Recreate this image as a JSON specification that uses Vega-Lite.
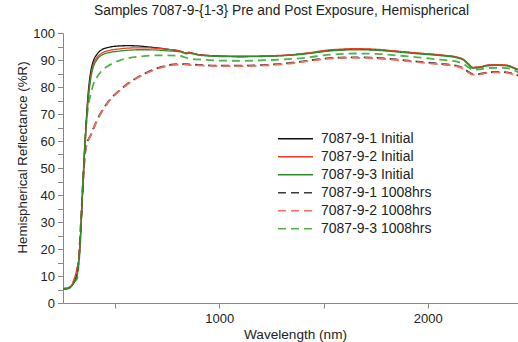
{
  "$schema": "https://vega.github.io/schema/vega-lite/v6.json",
  "width": 455,
  "height": 270,
  "autosize": "none",
  "padding": {"left": 63, "top": 33, "right": 0, "bottom": 39},
  "background": "white",
  "config": {
    "view": {"stroke": null},
    "font": "Liberation Sans"
  },
  "title": {
    "text": "Samples 7087-9-{1-3} Pre and Post Exposure, Hemispherical",
    "fontSize": 13.8,
    "fontWeight": "normal",
    "font": "Liberation Sans",
    "color": "#222",
    "anchor": "middle",
    "frame": "group",
    "baseline": "alphabetic",
    "offset": -2,
    "dx": -9
  },
  "data": {
    "values": [
      {"wl": 250, "k1i": 5.2, "k2i": 5.2, "k3i": 5.2, "k1d": 5.3, "k2d": 5.3, "k3d": 5.3},
      {"wl": 270, "k1i": 5.3, "k2i": 5.4, "k3i": 5.3, "k1d": 5.4, "k2d": 5.5, "k3d": 5.4},
      {"wl": 290, "k1i": 6.2, "k2i": 6.5, "k3i": 6.2, "k1d": 6.3, "k2d": 6.6, "k3d": 6.2},
      {"wl": 305, "k1i": 8.0, "k2i": 9.0, "k3i": 8.0, "k1d": 8.2, "k2d": 9.0, "k3d": 8.0},
      {"wl": 318, "k1i": 11.0, "k2i": 13.0, "k3i": 10.0, "k1d": 11.5, "k2d": 12.5, "k3d": 9.0},
      {"wl": 325, "k1i": 15.0, "k2i": 15.5, "k3i": 15.0, "k1d": 16.0, "k2d": 16.0, "k3d": 14.0},
      {"wl": 332, "k1i": 22.0, "k2i": 22.0, "k3i": 22.0, "k1d": 24.0, "k2d": 24.0, "k3d": 21.0},
      {"wl": 338, "k1i": 31.0, "k2i": 31.5, "k3i": 32.0, "k1d": 33.0, "k2d": 33.0, "k3d": 31.0},
      {"wl": 344, "k1i": 41.0, "k2i": 41.0, "k3i": 42.0, "k1d": 42.0, "k2d": 42.0, "k3d": 41.0},
      {"wl": 350, "k1i": 51.0, "k2i": 50.5, "k3i": 52.0, "k1d": 50.0, "k2d": 49.5, "k3d": 51.0},
      {"wl": 356, "k1i": 60.0, "k2i": 59.0, "k3i": 60.0, "k1d": 55.5, "k2d": 55.0, "k3d": 59.0},
      {"wl": 362, "k1i": 68.0, "k2i": 66.0, "k3i": 67.0, "k1d": 58.5, "k2d": 58.0, "k3d": 66.5},
      {"wl": 368, "k1i": 75.0, "k2i": 73.0, "k3i": 73.0, "k1d": 60.0, "k2d": 59.5, "k3d": 71.0},
      {"wl": 375, "k1i": 81.0, "k2i": 79.0, "k3i": 78.5, "k1d": 61.0, "k2d": 60.8, "k3d": 74.5},
      {"wl": 385, "k1i": 86.5, "k2i": 85.0, "k3i": 84.0, "k1d": 62.5, "k2d": 62.3, "k3d": 78.0},
      {"wl": 395, "k1i": 89.5, "k2i": 88.3, "k3i": 87.3, "k1d": 64.5, "k2d": 64.3, "k3d": 80.8},
      {"wl": 412, "k1i": 92.0, "k2i": 90.8, "k3i": 90.0, "k1d": 67.5, "k2d": 67.3, "k3d": 83.5},
      {"wl": 436, "k1i": 93.8, "k2i": 92.5, "k3i": 91.8, "k1d": 71.0, "k2d": 70.8, "k3d": 86.0},
      {"wl": 475, "k1i": 94.8, "k2i": 93.6, "k3i": 92.8, "k1d": 75.3, "k2d": 75.1, "k3d": 88.2},
      {"wl": 520, "k1i": 95.2, "k2i": 94.1, "k3i": 93.3, "k1d": 78.7, "k2d": 78.5, "k3d": 89.8},
      {"wl": 560, "k1i": 95.3, "k2i": 94.4, "k3i": 93.6, "k1d": 81.2, "k2d": 81.0, "k3d": 90.6},
      {"wl": 610, "k1i": 95.2, "k2i": 94.5, "k3i": 93.8, "k1d": 83.7, "k2d": 83.5, "k3d": 91.2},
      {"wl": 650, "k1i": 94.9, "k2i": 94.5, "k3i": 93.8, "k1d": 85.3, "k2d": 85.1, "k3d": 91.5},
      {"wl": 700, "k1i": 94.5, "k2i": 94.3, "k3i": 93.7, "k1d": 86.9, "k2d": 86.7, "k3d": 91.7},
      {"wl": 750, "k1i": 94.0, "k2i": 94.0, "k3i": 93.4, "k1d": 88.0, "k2d": 87.8, "k3d": 91.7},
      {"wl": 811, "k1i": 93.3, "k2i": 93.3, "k3i": 93.0, "k1d": 88.5, "k2d": 88.3, "k3d": 91.5},
      {"wl": 845, "k1i": 92.5, "k2i": 92.5, "k3i": 92.3, "k1d": 88.5, "k2d": 88.3, "k3d": 90.7},
      {"wl": 852, "k1i": 92.8, "k2i": 92.8, "k3i": 92.5, "k1d": 88.4, "k2d": 88.2, "k3d": 90.5},
      {"wl": 900, "k1i": 92.0, "k2i": 92.0, "k3i": 91.8, "k1d": 88.2, "k2d": 88.0, "k3d": 90.2},
      {"wl": 1000, "k1i": 91.5, "k2i": 91.5, "k3i": 91.3, "k1d": 87.9, "k2d": 87.7, "k3d": 89.8},
      {"wl": 1100, "k1i": 91.3, "k2i": 91.4, "k3i": 91.2, "k1d": 87.9, "k2d": 87.7, "k3d": 89.7},
      {"wl": 1250, "k1i": 91.5, "k2i": 91.6, "k3i": 91.4, "k1d": 88.3, "k2d": 88.1, "k3d": 90.0},
      {"wl": 1350, "k1i": 91.9, "k2i": 92.0, "k3i": 91.8, "k1d": 89.0, "k2d": 88.8, "k3d": 90.4},
      {"wl": 1400, "k1i": 92.3, "k2i": 92.4, "k3i": 92.1, "k1d": 89.5, "k2d": 89.3, "k3d": 90.7},
      {"wl": 1450, "k1i": 92.7, "k2i": 92.9, "k3i": 92.6, "k1d": 90.0, "k2d": 89.8, "k3d": 91.2},
      {"wl": 1500, "k1i": 93.3, "k2i": 93.5, "k3i": 93.1, "k1d": 90.5, "k2d": 90.3, "k3d": 91.7},
      {"wl": 1580, "k1i": 93.8, "k2i": 94.0, "k3i": 93.6, "k1d": 90.9, "k2d": 90.7, "k3d": 92.2},
      {"wl": 1650, "k1i": 94.0, "k2i": 94.2, "k3i": 93.8, "k1d": 91.0, "k2d": 90.8, "k3d": 92.4},
      {"wl": 1750, "k1i": 93.8, "k2i": 94.0, "k3i": 93.6, "k1d": 90.8, "k2d": 90.6, "k3d": 92.3},
      {"wl": 1850, "k1i": 93.2, "k2i": 93.3, "k3i": 93.0, "k1d": 90.2, "k2d": 90.0, "k3d": 91.7},
      {"wl": 1950, "k1i": 92.5, "k2i": 92.6, "k3i": 92.3, "k1d": 89.4, "k2d": 89.2, "k3d": 91.0},
      {"wl": 2060, "k1i": 91.8, "k2i": 91.9, "k3i": 91.6, "k1d": 88.6, "k2d": 88.4, "k3d": 90.1},
      {"wl": 2140, "k1i": 91.0, "k2i": 91.1, "k3i": 90.8, "k1d": 87.8, "k2d": 87.6, "k3d": 89.4},
      {"wl": 2170, "k1i": 90.2, "k2i": 90.3, "k3i": 90.0, "k1d": 87.0, "k2d": 86.8, "k3d": 88.6},
      {"wl": 2195, "k1i": 88.5, "k2i": 88.6, "k3i": 88.3, "k1d": 85.6, "k2d": 85.4, "k3d": 87.3},
      {"wl": 2215, "k1i": 87.2, "k2i": 87.3, "k3i": 87.0, "k1d": 84.8, "k2d": 84.6, "k3d": 86.4},
      {"wl": 2245, "k1i": 87.3, "k2i": 87.4, "k3i": 87.1, "k1d": 84.8, "k2d": 84.6, "k3d": 86.5},
      {"wl": 2285, "k1i": 88.0, "k2i": 88.1, "k3i": 87.8, "k1d": 85.4, "k2d": 85.2, "k3d": 87.0},
      {"wl": 2330, "k1i": 88.2, "k2i": 88.3, "k3i": 88.0, "k1d": 85.6, "k2d": 85.4, "k3d": 87.1},
      {"wl": 2380, "k1i": 88.0, "k2i": 88.1, "k3i": 87.8, "k1d": 85.4, "k2d": 85.2, "k3d": 87.0},
      {"wl": 2410, "k1i": 87.2, "k2i": 87.3, "k3i": 87.0, "k1d": 84.9, "k2d": 84.7, "k3d": 86.3},
      {"wl": 2435, "k1i": 86.3, "k2i": 86.4, "k3i": 86.2, "k1d": 84.2, "k2d": 84.0, "k3d": 85.4}
    ]
  },
  "transform": [
    {"fold": ["k1d", "k2d", "k3d", "k1i", "k2i", "k3i"], "as": ["series", "r"]}
  ],
  "encoding": {
    "x": {
      "field": "wl",
      "type": "quantitative",
      "scale": {"domain": [250, 2433], "nice": false, "zero": false},
      "axis": {
        "title": "Wavelength (nm)",
        "values": [500, 1000, 1500, 2000],
        "labelExpr": "datum.value % 1000 === 0 ? datum.label : ''",
        "grid": false,
        "domainColor": "#888",
        "tickColor": "#888",
        "tickSize": 5,
        "labelPadding": 4,
        "labelFontSize": 13,
        "labelColor": "#222",
        "labelFont": "Liberation Sans",
        "format": "d",
        "titleFontSize": 13.6,
        "titleFontWeight": "normal",
        "titleColor": "#222",
        "titleFont": "Liberation Sans",
        "titleBaseline": "alphabetic",
        "titleY": 35,
        "titleX": 232,
        "titleAlign": "center",
        "encode": {
          "ticks": {
            "update": {
              "y": {"signal": "datum.value % 1000 === 0 ? -5 : -2.5"},
              "y2": {"signal": "datum.value % 1000 === 0 ? 5 : 2.5"}
            }
          }
        }
      }
    },
    "y": {
      "field": "r",
      "type": "quantitative",
      "scale": {"domain": [0, 100], "nice": false},
      "axis": {
        "title": "Hemispherical Reflectance (%R)",
        "values": [0, 5, 10, 15, 20, 25, 30, 35, 40, 45, 50, 55, 60, 65, 70, 75, 80, 85, 90, 95, 100],
        "labelExpr": "datum.value % 10 === 0 ? datum.label : ''",
        "grid": false,
        "domainColor": "#888",
        "tickColor": "#888",
        "tickSize": 5.5,
        "labelPadding": 3,
        "labelFontSize": 13,
        "labelColor": "#222",
        "labelFont": "Liberation Sans",
        "titleFontSize": 13.3,
        "titleFontWeight": "normal",
        "titleColor": "#222",
        "titleFont": "Liberation Sans",
        "titleX": -37,
        "titleY": 124,
        "titleAlign": "center",
        "titleBaseline": "alphabetic",
        "encode": {
          "ticks": {
            "update": {
              "x": {"signal": "datum.value % 10 === 0 ? 5.5 : 3"},
              "x2": {"signal": "datum.value % 10 === 0 ? -5.5 : -3"}
            }
          }
        }
      }
    },
    "color": {
      "field": "series",
      "type": "nominal",
      "scale": {
        "domain": ["k1i", "k2i", "k3i", "k1d", "k2d", "k3d"],
        "range": ["#111111", "#ec3d26", "#2e8f2a", "#3a3a3a", "#f26f5e", "#52b04a"]
      },
      "legend": {
        "title": null,
        "orient": "none",
        "legendX": 214,
        "legendY": 97,
        "direction": "vertical",
        "symbolType": "stroke",
        "symbolSize": 1225,
        "symbolStrokeWidth": 1.4,
        "labelFontSize": 14,
        "labelColor": "#222",
        "labelFont": "Liberation Sans",
        "labelOffset": 7,
        "clipHeight": 17.5,
        "rowPadding": 0,
        "labelExpr": "{'k1i':'7087-9-1 Initial','k2i':'7087-9-2 Initial','k3i':'7087-9-3 Initial','k1d':'7087-9-1 1008hrs','k2d':'7087-9-2 1008hrs','k3d':'7087-9-3 1008hrs'}[datum.value]"
      }
    },
    "strokeDash": {
      "field": "series",
      "type": "nominal",
      "scale": {
        "domain": ["k1i", "k2i", "k3i", "k1d", "k2d", "k3d"],
        "range": [[1, 0], [1, 0], [1, 0], [8, 5], [8, 5], [8, 5]]
      },
      "legend": {
        "title": null,
        "orient": "none",
        "legendX": 214,
        "legendY": 97,
        "direction": "vertical",
        "symbolType": "stroke",
        "symbolSize": 1225,
        "symbolStrokeWidth": 1.4,
        "labelFontSize": 14,
        "labelColor": "#222",
        "labelFont": "Liberation Sans",
        "labelOffset": 7,
        "clipHeight": 17.5,
        "rowPadding": 0,
        "labelExpr": "{'k1i':'7087-9-1 Initial','k2i':'7087-9-2 Initial','k3i':'7087-9-3 Initial','k1d':'7087-9-1 1008hrs','k2d':'7087-9-2 1008hrs','k3d':'7087-9-3 1008hrs'}[datum.value]"
      }
    }
  },
  "layer": [
    {
      "transform": [{"filter": "indexof(['k1d','k2d','k3d'], datum.series) >= 0"}],
      "mark": {"type": "line", "interpolate": "monotone", "strokeWidth": 1.8, "clip": true}
    },
    {
      "transform": [{"filter": "indexof(['k1i','k2i','k3i'], datum.series) >= 0"}],
      "mark": {"type": "line", "interpolate": "monotone", "strokeWidth": 1.3, "clip": true}
    }
  ]
}
